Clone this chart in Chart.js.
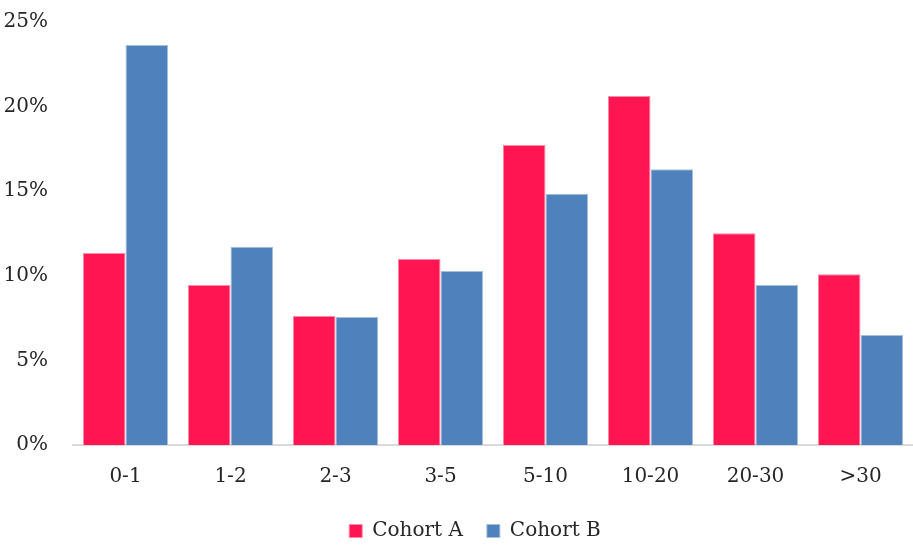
<!DOCTYPE html>
<html>
<head>
<meta charset="utf-8">
<script src="https://cdn.jsdelivr.net/npm/chart.js@4/dist/chart.umd.min.js"></script>
<style>
  html, body { margin: 0; padding: 0; background: #ffffff; }
  #wrap { width: 913px; height: 545px; position: relative; }
</style>
</head>
<body>
<div id="wrap"><canvas id="chart"></canvas></div>
<script>
// Age bands on the x axis
const categories = ['0-1', '1-2', '2-3', '3-5', '5-10', '10-20', '20-30', '>30'];
// Share of each cohort per band, in percent
const cohortA = [11.35, 9.46, 7.62, 10.99, 17.73, 20.63, 12.51, 10.09];
const cohortB = [23.64, 11.72, 7.56, 10.28, 14.85, 16.29, 9.46, 6.50];
// Value axis ticks, in percent
const yTicks = [0, 5, 10, 15, 20, 25];

const FONT = 'DejaVu Serif';
const TEXT = '#262626';
const SIZE = 20;

// Nudge the centred legend row a little to the right of the canvas centre
const legendNudge = {
  id: 'legendNudge',
  afterLayout(chart) {
    if (chart.legend) { chart.legend.left += 37; }
  }
};

new Chart(document.getElementById('chart'), {
  type: 'bar',
  plugins: [legendNudge],
  data: {
    labels: categories,
    datasets: [
      { label: 'Cohort A', data: cohortA, backgroundColor: '#FF1551', borderColor: '#FF8AA6', borderWidth: 1, borderSkipped: 'bottom' },
      { label: 'Cohort B', data: cohortB, backgroundColor: '#4F81BD', borderColor: '#A7BFDD', borderWidth: 1, borderSkipped: 'bottom' }
    ]
  },
  options: {
    responsive: true,
    maintainAspectRatio: false,
    animation: false,
    categoryPercentage: 0.81,
    barPercentage: 1.0,
    layout: { padding: { top: 22, right: 0, left: 0, bottom: -6 } },
    plugins: {
      tooltip: { enabled: false },
      legend: {
        position: 'bottom',
        labels: {
          font: { family: FONT, size: SIZE },
          color: TEXT,
          boxWidth: 13,
          boxHeight: 13,
          padding: 24
        }
      }
    },
    scales: {
      x: {
        grid: { display: false, drawTicks: false },
        border: { display: true, color: '#D9D9D9', width: 2 },
        ticks: { font: { family: FONT, size: SIZE }, color: TEXT, padding: 20 },
        afterFit: (s) => { s.height = 52; }
      },
      y: {
        min: 0,
        max: 25,
        afterBuildTicks: (s) => { s.ticks = yTicks.map(v => ({ value: v })); },
        grid: { display: false, drawTicks: false },
        border: { display: false },
        ticks: {
          font: { family: FONT, size: SIZE },
          color: TEXT,
          padding: 25,
          callback: (v) => v + '%'
        },
        afterFit: (s) => { s.width = 73; s.paddingTop = 0; s.paddingBottom = 0; }
      }
    }
  }
});
</script>
</body>
</html>
